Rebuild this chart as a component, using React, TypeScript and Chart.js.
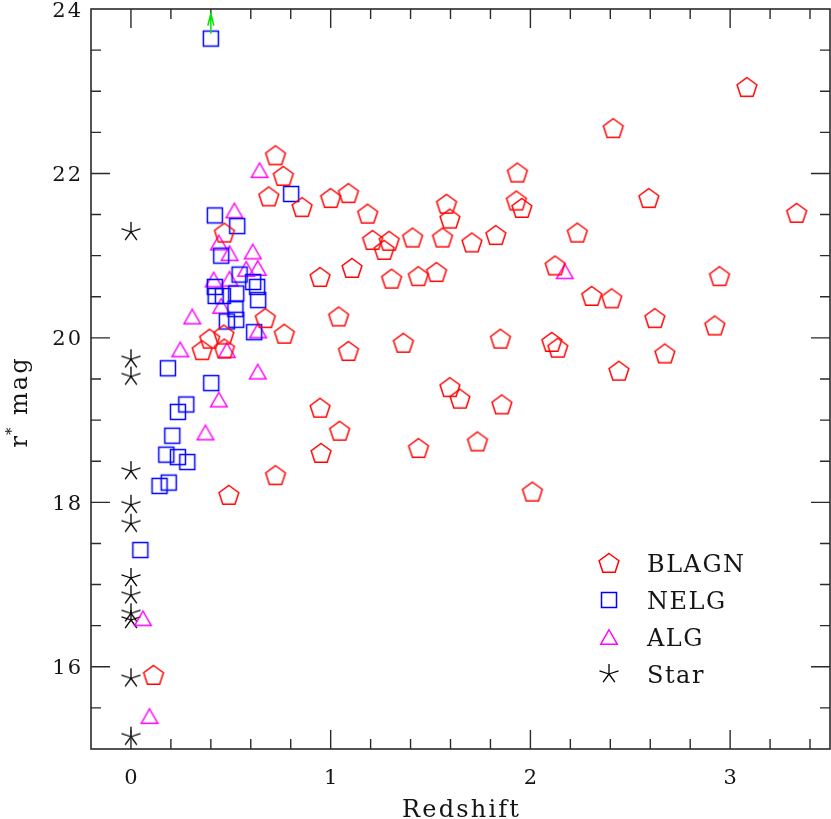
import React, { useEffect, useRef } from 'react';
import { Chart, registerables } from 'chart.js';

Chart.register(...registerables);

// ---------------- data ----------------
const seriesNames = ['BLAGN', 'NELG', 'ALG', 'Star'];

const blagnX = [
  0.724, 0.763, 0.69, 0.857, 1.0, 0.468, 0.947, 0.673, 0.768, 0.394, 0.465, 0.357, 0.468, 0.947, 1.045, 0.952, 0.724, 0.49, 0.113,
  1.935, 1.089, 1.58, 1.93, 1.957, 1.185, 1.597, 2.235, 1.21, 1.293, 1.268, 1.41, 1.56, 1.707, 1.827, 1.107, 1.305, 1.439, 1.53, 2.124,
  1.04, 1.089, 1.364, 1.85, 2.107, 2.137, 1.597, 1.647, 1.857, 1.44, 1.735, 2.01,
  3.084, 2.415, 2.593, 3.333, 2.947, 2.307, 2.407, 2.623, 2.923, 2.673, 2.443,
];
const blagnY = [
  22.22, 21.97, 21.72, 21.59, 21.7, 21.28, 20.74, 20.24, 20.05, 19.99, 20.04, 19.85, 19.87, 19.15, 18.87, 18.6, 18.33, 18.09, 15.9,
  22.01, 21.76, 21.63, 21.67, 21.58, 21.51, 21.45, 21.28, 21.19, 21.18, 21.07, 21.22, 21.22, 21.16, 21.25, 20.85, 20.72, 20.75, 20.8, 20.88,
  20.26, 19.84, 19.94, 19.99, 19.95, 19.88, 19.4, 19.26, 19.19, 18.66, 18.74, 18.13,
  23.05, 22.55, 21.7, 21.52, 20.75, 20.51, 20.48, 20.24, 20.15, 19.81, 19.6,
];

const nelgX = [
  0.4, 0.802, 0.42, 0.532, 0.452, 0.544, 0.612, 0.42, 0.632, 0.424, 0.46, 0.527, 0.637, 0.523,
  0.48, 0.527, 0.617, 0.185, 0.402, 0.277, 0.235, 0.207, 0.177, 0.235, 0.282, 0.143, 0.189, 0.047,
];
const nelgY = [
  23.64, 21.75, 21.49, 21.36, 21.0, 20.77, 20.68, 20.62, 20.62, 20.51, 20.51, 20.54, 20.46, 20.35,
  20.2, 20.22, 20.07, 19.63, 19.45, 19.19, 19.1, 18.81, 18.58, 18.55, 18.49, 18.2, 18.24, 17.42,
];

const algX = [
  0.644, 0.518, 0.44, 0.494, 0.61, 0.635, 0.577, 0.414, 0.494, 0.452, 0.307, 0.637, 0.247, 0.48,
  0.635, 0.44, 0.373, 0.06, 0.093, 2.172,
];
const algY = [
  22.04, 21.55, 21.16, 21.03, 21.05, 20.85, 20.84, 20.71, 20.72, 20.39, 20.26, 20.09, 19.86, 19.85,
  19.59, 19.25, 18.85, 16.59, 15.4, 20.81,
];

const starX = [0, 0, 0, 0, 0, 0, 0, 0, 0, 0, 0, 0];
const starY = [21.29, 19.74, 19.53, 18.38, 17.97, 17.74, 17.08, 16.87, 16.65, 16.57, 15.86, 15.15];

// lower-limit arrow on the faint NELG source
const arrowX = [0.4];
const arrowFromY = [23.7];
const arrowToY = [23.945];

const xTickValues = [0, 1, 2, 3];
const xTickLabels = ['0', '1', '2', '3'];
const yTickValues = [16, 18, 20, 22, 24];
const yTickLabels = ['16', '18', '20', '22', '24'];
const xTitle = 'Redshift';
const yTitleMain = 'r';
const yTitleSup = '*';
const yTitleRest = ' mag';

// ---------------- helpers ----------------
const RED = '#ff0000';
const BLUE = '#0000ff';
const MAGENTA = '#ff00ff';
const BLACK = '#000000';
const AXIS = '#2a2a2a';
const TEXT = '#151515';
const FONT = '"DejaVu Serif", "Liberation Serif", serif';

type Kind = 'pentagon' | 'square' | 'triangle' | 'star';

function makeMarker(kind: Kind, color: string): HTMLCanvasElement {
  const s = 28;
  const c = document.createElement('canvas');
  c.width = s;
  c.height = s;
  const g = c.getContext('2d')!;
  const m = s / 2;
  g.strokeStyle = color;
  g.lineWidth = 1.5;
  g.lineJoin = 'miter';
  g.beginPath();
  if (kind === 'pentagon') {
    const r = 10.4;
    const dy = 0.9;
    for (let i = 0; i < 5; i++) {
      const a = -Math.PI / 2 + (i * 2 * Math.PI) / 5;
      const px = m + r * Math.cos(a);
      const py = m + dy + r * Math.sin(a);
      if (i === 0) g.moveTo(px, py);
      else g.lineTo(px, py);
    }
    g.closePath();
  } else if (kind === 'square') {
    g.rect(m - 7.5, m - 7.5, 15, 15);
  } else if (kind === 'triangle') {
    const w = 16.5;
    const h = 14.5;
    g.moveTo(m, m - h / 2);
    g.lineTo(m + w / 2, m + h / 2);
    g.lineTo(m - w / 2, m + h / 2);
    g.closePath();
  } else {
    const L = 10;
    g.lineWidth = 1.3;
    for (let i = 0; i < 5; i++) {
      const a = -Math.PI / 2 + (i * 2 * Math.PI) / 5;
      g.moveTo(m, m);
      g.lineTo(m + L * Math.cos(a), m + L * Math.sin(a));
    }
  }
  g.stroke();
  return c;
}

function toPoints(xs: number[], ys: number[]) {
  return xs.map((x, i) => ({ x, y: ys[i] }));
}

function drawText(
  ctx: CanvasRenderingContext2D,
  s: string,
  x: number,
  y: number,
  size: number,
  align: CanvasTextAlign,
  ls: number
) {
  ctx.save();
  ctx.font = `${size}px ${FONT}`;
  (ctx as any).letterSpacing = `${ls}px`;
  ctx.textAlign = align;
  ctx.textBaseline = 'alphabetic';
  ctx.fillStyle = TEXT;
  let dx = 0;
  if (align === 'center') dx = ls / 2;
  else if (align === 'right') dx = ls;
  ctx.fillText(s, x + dx, y);
  ctx.restore();
}

// ---------------- component ----------------
export default function App() {
  const ref = useRef<HTMLCanvasElement | null>(null);

  useEffect(() => {
    if (!ref.current) return;
    const markers = {
      pentagon: makeMarker('pentagon', RED),
      square: makeMarker('square', BLUE),
      triangle: makeMarker('triangle', MAGENTA),
      star: makeMarker('star', BLACK),
    };
    const legendMarkers = [markers.pentagon, markers.square, markers.triangle, markers.star];

    const framePlugin = {
      id: 'frame',
      afterDraw(chart: any) {
        const { ctx, chartArea } = chart;
        const xs = chart.scales.x;
        const ys = chart.scales.y;
        const { left, right, top, bottom } = chartArea;
        ctx.save();
        // border
        ctx.strokeStyle = AXIS;
        ctx.lineWidth = 1.6;
        ctx.strokeRect(left, top, right - left, bottom - top);
        // x ticks (bottom and top)
        ctx.lineWidth = 1.4;
        ctx.beginPath();
        for (let k = -1; k <= 18; k++) {
          const v = Math.round(k * 0.2 * 10) / 10;
          if (v <= xs.min + 1e-6 || v >= xs.max - 1e-6) continue;
          const px = xs.getPixelForValue(v);
          const major = Math.abs(v - Math.round(v)) < 1e-6;
          const len = major ? 19 : 10;
          ctx.moveTo(px, bottom);
          ctx.lineTo(px, bottom - len);
          ctx.moveTo(px, top);
          ctx.lineTo(px, top + len);
        }
        // y ticks (left and right)
        for (let v = 15.5; v < 24; v += 0.5) {
          const py = ys.getPixelForValue(v);
          const major = Math.abs(v / 2 - Math.round(v / 2)) < 1e-6;
          const len = major ? 19 : 10;
          ctx.moveTo(left, py);
          ctx.lineTo(left + len, py);
          ctx.moveTo(right, py);
          ctx.lineTo(right - len, py);
        }
        ctx.stroke();

        // tick labels
        xTickValues.forEach((v, i) => {
          drawText(ctx, xTickLabels[i], xs.getPixelForValue(v), 783.5, 21, 'center', 2);
        });
        yTickValues.forEach((v, i) => {
          drawText(ctx, yTickLabels[i], 81, ys.getPixelForValue(v) + 7.6, 21, 'right', 2);
        });

        // axis titles
        drawText(ctx, xTitle, (left + right) / 2, 816.5, 24, 'center', 2.2);

        ctx.save();
        ctx.translate(27, 402);
        ctx.rotate(-Math.PI / 2);
        ctx.fillStyle = TEXT;
        (ctx as any).letterSpacing = '2px';
        ctx.textBaseline = 'alphabetic';
        ctx.textAlign = 'left';
        ctx.font = `24px ${FONT}`;
        const w1 = ctx.measureText(yTitleMain).width;
        const w3 = ctx.measureText(yTitleRest).width;
        ctx.font = `15px ${FONT}`;
        const w2 = ctx.measureText(yTitleSup).width;
        const total = w1 + w2 + w3;
        let cx = -total / 2;
        ctx.font = `24px ${FONT}`;
        ctx.fillText(yTitleMain, cx, 0);
        cx += w1;
        ctx.font = `15px ${FONT}`;
        ctx.fillText(yTitleSup, cx - 1, -11);
        cx += w2;
        ctx.font = `24px ${FONT}`;
        ctx.fillText(yTitleRest, cx, 0);
        ctx.restore();

        // lower-limit arrow
        ctx.strokeStyle = '#00e600';
        ctx.lineWidth = 1.5;
        arrowX.forEach((ax, i) => {
          const px = xs.getPixelForValue(ax);
          const y0 = ys.getPixelForValue(arrowFromY[i]);
          const y1 = ys.getPixelForValue(arrowToY[i]);
          ctx.beginPath();
          ctx.moveTo(px, y0);
          ctx.lineTo(px, y1);
          ctx.moveTo(px - 3, y1 + 12);
          ctx.lineTo(px, y1);
          ctx.lineTo(px + 3, y1 + 12);
          ctx.stroke();
        });

        // legend
        const lx = 609;
        const tx = 647;
        const rows = [563, 600, 637, 674];
        seriesNames.forEach((name, i) => {
          const mk = legendMarkers[i];
          ctx.drawImage(mk, lx - mk.width / 2, rows[i] - mk.height / 2);
          drawText(ctx, name, tx, rows[i] + 8.7, 24, 'left', 1.5);
        });
        ctx.restore();
      },
    };

    const chart = new Chart(ref.current, {
      type: 'scatter',
      data: {
        datasets: [
          { label: seriesNames[0], data: toPoints(blagnX, blagnY), pointStyle: markers.pentagon as any, pointRadius: 10 },
          { label: seriesNames[1], data: toPoints(nelgX, nelgY), pointStyle: markers.square as any, pointRadius: 8 },
          { label: seriesNames[2], data: toPoints(algX, algY), pointStyle: markers.triangle as any, pointRadius: 8 },
          { label: seriesNames[3], data: toPoints(starX, starY), pointStyle: markers.star as any, pointRadius: 10 },
        ],
      },
      options: {
        responsive: false,
        animation: false,
        devicePixelRatio: 1,
        layout: { autoPadding: false, padding: { top: 9, right: 1, left: 0, bottom: 0 } },
        plugins: {
          legend: { display: false },
          tooltip: { enabled: false },
          title: { display: false },
        },
        scales: {
          x: {
            type: 'linear',
            min: -0.2,
            max: 3.5,
            grid: { display: false },
            border: { display: false },
            ticks: { display: false },
            afterFit: (s: any) => {
              s.height = 70;
            },
          },
          y: {
            type: 'linear',
            min: 15,
            max: 24,
            grid: { display: false },
            border: { display: false },
            ticks: { display: false },
            afterFit: (s: any) => {
              s.width = 91;
            },
          },
        },
      },
      plugins: [framePlugin],
    });
    return () => chart.destroy();
  }, []);

  return (
    <div style={{ position: 'absolute', left: 0, top: 0, width: 831, height: 819, background: '#fff' }}>
      <canvas ref={ref} width={831} height={819} style={{ display: 'block', width: 831, height: 819 }} />
    </div>
  );
}
